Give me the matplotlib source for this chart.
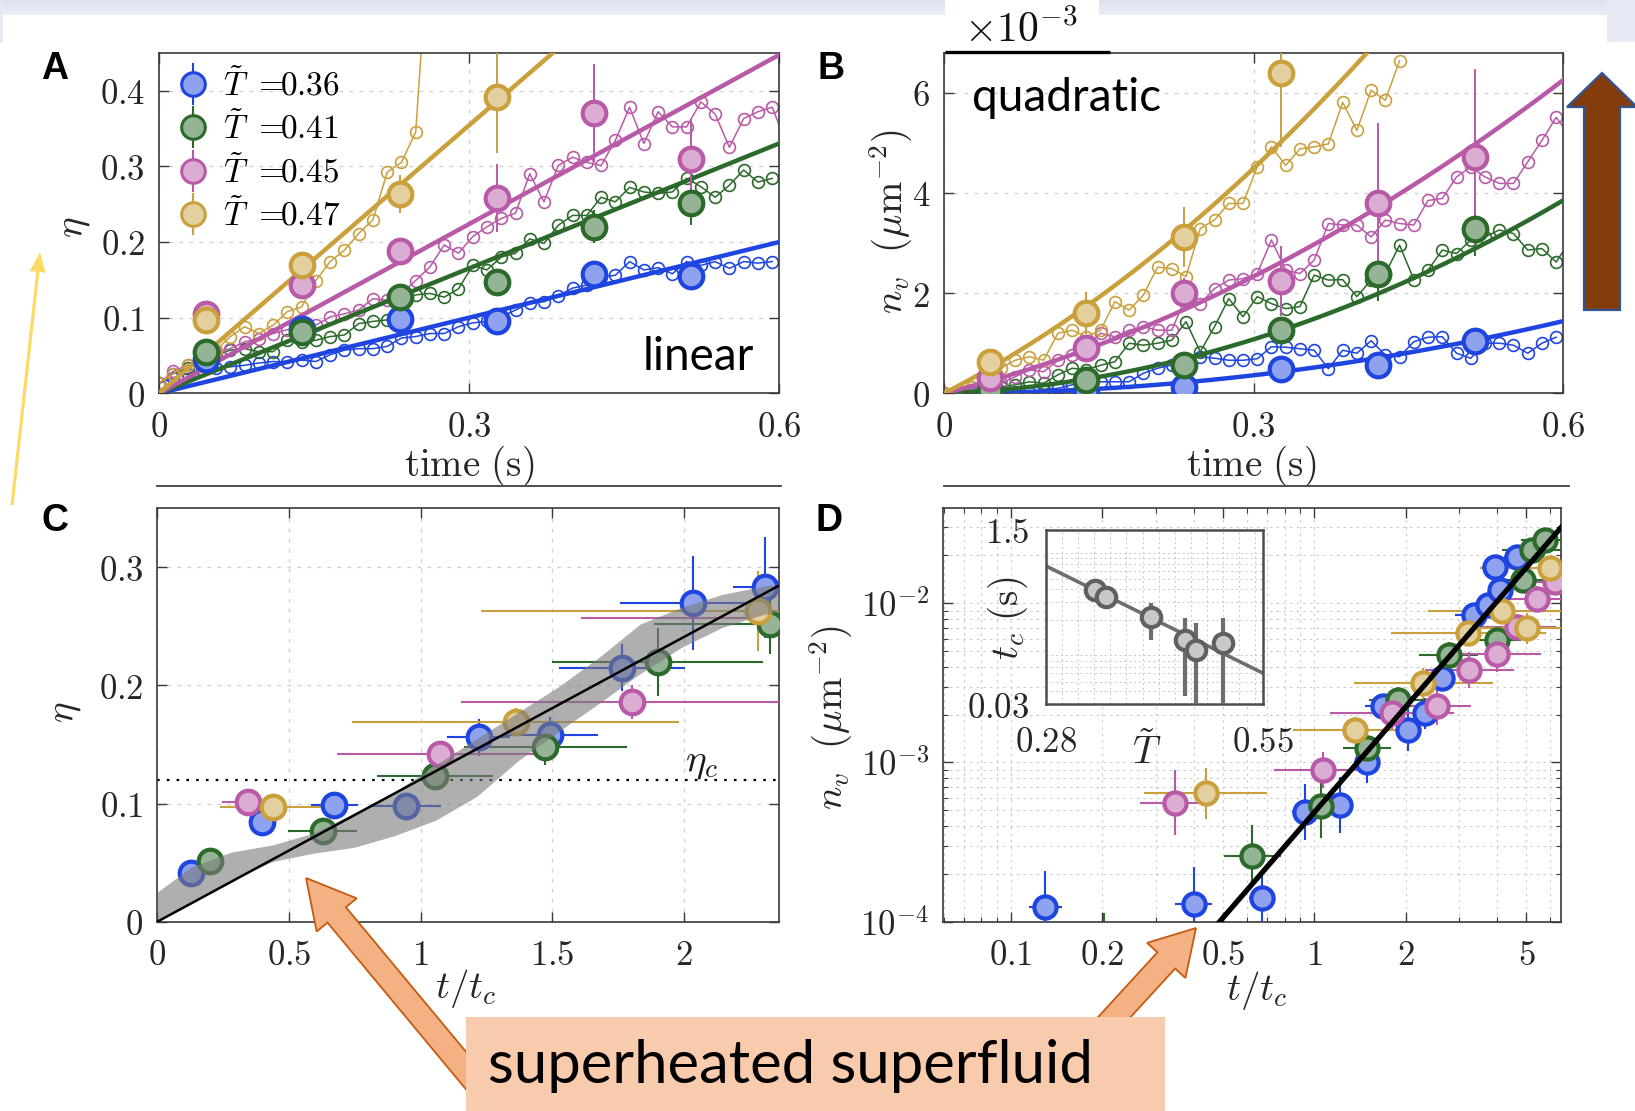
import numpy as np
import matplotlib
matplotlib.use("Agg")
import matplotlib.pyplot as plt
from matplotlib.patches import Rectangle, FancyArrow
from matplotlib.lines import Line2D
from matplotlib.legend_handler import HandlerTuple
from matplotlib.ticker import FixedLocator, FuncFormatter, NullFormatter, MultipleLocator, LogLocator
from matplotlib.colors import to_rgb, LinearSegmentedColormap

plt.rcParams["mathtext.fontset"] = "cm"
plt.rcParams["font.family"] = ["DejaVu Sans"]

W, H = 1635, 1111

# ------------------------------------------------------------------ data
temps = [0.36, 0.41, 0.45, 0.47]
edge_colors = ["#1f45e0", "#2b6a2b", "#b85aa8", "#c9a03c"]

# Panel A: vortex fraction eta vs time
DT = 0.0138
t_bin = [0.045, 0.138, 0.233, 0.327, 0.421, 0.515]
eta_bin_036 = [0.045, 0.085, 0.098, 0.095, 0.157, 0.155]
eta_bin_041 = [0.055, 0.081, 0.127, 0.147, 0.220, 0.252]
eta_bin_045 = [0.105, 0.143, 0.188, 0.258, 0.370, 0.309]
eta_bin_047 = [0.097, 0.169, 0.263, 0.392]
eta_err_036 = [0.005, 0.006, 0.008, 0.008, 0.010, 0.010]
eta_err_041 = [0.006, 0.008, 0.012, 0.012, 0.022, 0.030]
eta_err_045 = [0.006, 0.010, 0.012, 0.045, 0.065, 0.053]
eta_err_047 = [0.008, 0.012, 0.025, 0.075]
eta_slope = [0.333, 0.55, 0.745, 1.18]

eta_raw_036 = [0.013, 0.020, 0.026, 0.031, 0.033, 0.035, 0.037, 0.040, 0.042, 0.041, 0.044,
               0.042, 0.051, 0.057, 0.059, 0.059, 0.062, 0.073, 0.075, 0.079, 0.079, 0.088,
               0.093, 0.095, 0.101, 0.110, 0.119, 0.121, 0.129, 0.139, 0.143, 0.153, 0.156,
               0.174, 0.163, 0.166, 0.158, 0.174, 0.169, 0.174, 0.165, 0.174, 0.172, 0.174]
eta_raw_041 = [0.013, 0.026, 0.033, 0.044, 0.051, 0.057, 0.059, 0.055, 0.055, 0.070, 0.068,
               0.070, 0.075, 0.077, 0.092, 0.095, 0.097, 0.123, 0.130, 0.132, 0.127, 0.138,
               0.169, 0.163, 0.180, 0.185, 0.204, 0.198, 0.222, 0.235, 0.235, 0.259, 0.253,
               0.272, 0.266, 0.264, 0.266, 0.284, 0.273, 0.259, 0.275, 0.295, 0.279, 0.284]
eta_raw_045 = [0.013, 0.029, 0.037, 0.046, 0.055, 0.059, 0.068, 0.072, 0.079, 0.084, 0.088,
               0.090, 0.101, 0.105, 0.110, 0.125, 0.123, 0.132, 0.149, 0.167, 0.196, 0.185,
               0.207, 0.220, 0.231, 0.238, 0.290, 0.253, 0.301, 0.312, 0.305, 0.301, 0.334,
               0.378, 0.330, 0.372, 0.352, 0.352, 0.385, 0.369, 0.325, 0.363, 0.372, 0.378, 0.330]
eta_raw_047 = [0.013, 0.026, 0.037, 0.048, 0.057, 0.075, 0.088, 0.079, 0.090, 0.108, 0.114,
               0.149, 0.174, 0.189, 0.211, 0.229, 0.292, 0.305, 0.345, 0.620]

# Panel B: vortex density (units of 1e-3 um^-2) vs time
nv_bin_036 = [0.02, 0.03, 0.13, 0.48, 0.56, 1.04]
nv_bin_041 = [0.05, 0.27, 0.56, 1.26, 2.39, 3.29]
nv_bin_045 = [0.30, 0.90, 2.01, 2.25, 3.79, 4.72]
nv_bin_047 = [0.63, 1.61, 3.12, 6.39]
nv_err_036 = [0.03, 0.04, 0.06, 0.10, 0.10, 0.25]
nv_err_041 = [0.05, 0.10, 0.15, 0.20, 0.55, 0.55]
nv_err_045 = [0.10, 0.20, 0.30, 0.70, 1.60, 1.75]
nv_err_047 = [0.10, 0.42, 0.60, 1.47]
nv_quad = [4.0, 9.42, 8.83, 14.66]   # t^2 coefficient
nv_lin = [0.0, 0.765, 5.12, 10.57]   # t coefficient

nv_raw_036 = [0.0, 0.0, 0.01, 0.01, 0.02, 0.02, 0.03, 0.07, 0.10, 0.17, 0.20, 0.23, 0.23,
              0.23, 0.40, 0.50, 0.565, 0.66, 0.73, 0.70, 0.66, 0.66, 0.69, 0.93, 0.92, 0.89,
              0.86, 0.49, 0.86, 0.80, 1.05, 0.76, 0.73, 1.03, 1.12, 1.13, 0.80, 0.70, 1.00,
              1.00, 0.96, 0.80, 1.00, 1.12]
nv_raw_041 = [0.0, 0.03, 0.07, 0.10, 0.13, 0.17, 0.23, 0.20, 0.37, 0.50, 0.47, 0.56, 0.63,
              1.00, 0.96, 1.00, 1.06, 1.43, 0.83, 1.33, 1.89, 1.53, 1.93, 1.79, 1.69, 1.73,
              2.36, 2.26, 2.27, 1.93, 2.26, 2.39, 2.96, 2.27, 2.46, 2.86, 2.79, 3.06, 3.12,
              3.26, 3.19, 2.86, 2.89, 2.62, 3.06]
nv_raw_045 = [0.0, 0.03, 0.07, 0.13, 0.20, 0.33, 0.47, 0.43, 0.66, 0.76, 0.93, 1.20, 1.13,
              1.26, 1.33, 1.26, 1.26, 1.93, 1.79, 2.09, 2.26, 2.29, 2.39, 3.06, 2.46, 2.39,
              2.66, 3.39, 3.36, 3.36, 3.12, 3.46, 3.39, 3.36, 3.85, 3.89, 4.32, 4.52, 4.32,
              4.19, 4.19, 4.62, 5.05, 5.51, 5.12]
nv_raw_047 = [0.0, 0.05, 0.13, 0.33, 0.50, 0.66, 0.73, 0.66, 1.20, 1.26, 1.13, 1.26, 1.83,
              1.66, 1.96, 2.52, 2.49, 2.33, 3.29, 3.46, 3.79, 3.79, 4.52, 4.92, 4.55, 4.88,
              4.92, 4.98, 5.81, 5.25, 6.05, 5.85, 6.64]

# Panel C: eta vs rescaled time t/t_c
c_x_036 = [0.127, 0.399, 0.673, 0.946, 1.221, 1.493, 1.764, 2.036, 2.307]
c_eta_036 = [0.041, 0.084, 0.099, 0.098, 0.156, 0.158, 0.215, 0.270, 0.283]
c_xerr_036 = [0.02, 0.04, 0.09, 0.13, 0.12, 0.18, 0.24, 0.28, 0.12]
c_yerr_036 = [0.003, 0.004, 0.005, 0.005, 0.016, 0.015, 0.020, 0.040, 0.043]
c_x_041 = [0.202, 0.628, 1.054, 1.474, 1.901, 2.326]
c_eta_041 = [0.051, 0.077, 0.123, 0.148, 0.220, 0.252]
c_xerr_041 = [0.02, 0.13, 0.22, 0.31, 0.40, 0.44]
c_yerr_041 = [0.004, 0.005, 0.010, 0.015, 0.029, 0.025]
c_x_045 = [0.346, 1.074, 1.803, 2.530]
c_eta_045 = [0.101, 0.142, 0.186, 0.257]
c_xerr_045 = [0.10, 0.39, 0.65, 0.92]
c_yerr_045 = [0.004, 0.008, 0.014, 0.020]
c_x_047 = [0.439, 1.361, 2.281]
c_eta_047 = [0.097, 0.169, 0.263]
c_xerr_047 = [0.20, 0.62, 1.05]
c_yerr_047 = [0.004, 0.012, 0.034]
band_x = [0.0, 0.127, 0.282, 0.438, 0.593, 0.748, 0.903, 1.058, 1.213, 1.369, 1.524,
          1.679, 1.834, 1.989, 2.144, 2.30, 2.36]
band_hi = [0.025, 0.046, 0.059, 0.065, 0.075, 0.092, 0.110, 0.133, 0.155, 0.177, 0.199,
           0.224, 0.252, 0.266, 0.277, 0.284, 0.286]
band_lo = [0.0, 0.017, 0.035, 0.051, 0.058, 0.063, 0.073, 0.086, 0.106, 0.136, 0.161,
           0.185, 0.210, 0.232, 0.249, 0.260, 0.263]
c_slope = 0.1205
eta_c = 0.12

# Panel D: vortex density vs t/t_c (log-log)
d_x_036 = [0.130, 0.40, 0.671, 0.931, 1.22, 1.49, 1.69, 2.04, 2.32, 2.63, 3.35, 3.75, 4.10, 3.94, 4.65]
d_nv_036 = [1.23e-4, 1.29e-4, 1.40e-4, 4.91e-4, 5.41e-4, 1.01e-3, 2.25e-3, 1.6e-3, 2.04e-3,
            3.38e-3, 8.43e-3, 9.77e-3, 1.21e-2, 1.70e-2, 1.96e-2]
d_fx_036 = [1.13, 1.15, 1.10, 1.10, 1.08, 1.10, 1.15, 1.10, 1.10, 1.10, 1.15, 1.12, 1.10, 1.10, 1.10]
d_fy_036 = [1.7, 1.7, 1.4, 1.5, 1.5, 1.35, 1.2, 1.35, 1.25, 1.2, 1.15, 1.15, 1.15, 1.1, 1.1]
d_x_041 = [0.202, 0.625, 1.05, 1.49, 1.89, 2.77, 3.99, 4.89, 5.21, 5.77]
d_nv_041 = [6.0e-5, 2.59e-4, 5.33e-4, 1.23e-3, 2.47e-3, 4.73e-3, 5.89e-3, 1.40e-2, 2.16e-2, 2.50e-2]
d_fx_041 = [1.0, 1.24, 1.15, 1.2, 1.25, 1.25, 1.2, 1.2, 1.25, 1.2]
d_fy_041 = [1.9, 1.57, 1.6, 1.25, 1.2, 1.2, 1.2, 1.15, 1.15, 1.15]
d_x_045 = [0.347, 1.07, 1.80, 2.53, 3.24, 3.99, 4.65, 5.41, 6.22]
d_nv_045 = [5.58e-4, 8.97e-4, 2.04e-3, 2.25e-3, 3.81e-3, 4.81e-3, 7.13e-3, 1.07e-2, 1.37e-2]
d_fx_045 = [1.3, 1.45, 1.6, 1.3, 1.4, 1.4, 1.35, 1.3, 1.3]
d_fy_045 = [1.6, 1.3, 1.3, 1.3, 1.3, 1.3, 1.2, 1.2, 1.2]
d_x_047 = [0.438, 1.36, 2.29, 3.22, 4.15, 5.01, 5.98]
d_nv_047 = [6.41e-4, 1.6e-3, 3.15e-3, 6.49e-3, 8.95e-3, 6.97e-3, 1.66e-2]
d_fx_047 = [1.6, 1.6, 1.7, 1.8, 1.75, 1.5, 1.7]
d_fy_047 = [1.45, 1.2, 1.25, 1.2, 1.2, 1.25, 1.15]
d_amp = 4.86e-4
d_exp = 2.2

# Inset: critical time vs temperature
inset_T = [0.341, 0.355, 0.410, 0.453, 0.466, 0.500]
inset_tc = [0.391, 0.334, 0.213, 0.126, 0.101, 0.119]
inset_tc_lo = [0.030, 0.030, 0.086, 0.090, 0.090, 0.110]
inset_tc_hi = [0.040, 0.040, 0.077, 0.080, 0.084, 0.087]
inset_T_err = [0.004, 0.004, 0.012, 0.005, 0.005, 0.014]
inset_fit = [0.910, -3.874]   # log10(t_c) = a + b * T

# ------------------------------------------------------------------ helpers
TICK_FS = 25
LABEL_FS = 28


def px_rect(l, t, r, b):
    return [l / W, 1 - b / H, (r - l) / W, (b - t) / H]


def face(c, a=0.5):
    r, g, b = to_rgb(c)
    return (a * r + 1 - a, a * g + 1 - a, a * b + 1 - a)


def plain_fmt(v, pos):
    return r"$%s$" % ("%g" % v)


def pow_fmt(v, pos):
    return r"$10^{%d}$" % int(round(np.log10(v)))


def style_axes(ax, xpad=12, ypad=10):
    for s in ax.spines.values():
        s.set_linewidth(1.2)
        s.set_color("#3a3a3a")
    ax.tick_params(which="major", direction="in", top=True, right=True, length=7,
                   width=1.0, colors="#3a3a3a", labelcolor="#262626", labelsize=TICK_FS)
    ax.tick_params(which="minor", direction="in", top=True, right=True, length=3.5,
                   width=0.8, colors="#3a3a3a")
    ax.tick_params(axis="x", pad=xpad)
    ax.tick_params(axis="y", pad=ypad)


def marked(ax, x, y, c, ms, xerr=None, yerr=None, elw=1.5, z=3):
    cont = ax.errorbar(x, y, xerr=xerr, yerr=yerr, fmt="o", ms=ms, mec=c, mfc=face(c),
                       mew=3, ecolor=c, elinewidth=elw, capsize=0, zorder=z)
    cont[0].set_zorder(z + 0.5)
    return cont


def ptext(x, y, s, **kw):
    return fig.text(x / W, 1 - y / H, s, **kw)


fig = plt.figure(figsize=(W / 100, H / 100), dpi=100)
fig.patch.set_facecolor("white")

grid_kw = dict(color="#cfcfcf", linestyle=(0, (3, 5)), linewidth=0.9)

# ------------------------------------------------------------------ panel A
axA = fig.add_axes(px_rect(159, 52.7, 779, 393.3))
bins_A = [eta_bin_036, eta_bin_041, eta_bin_045, eta_bin_047]
errs_A = [eta_err_036, eta_err_041, eta_err_045, eta_err_047]
raws_A = [eta_raw_036, eta_raw_041, eta_raw_045, eta_raw_047]
handles = []
for k in range(4):
    c = edge_colors[k]
    raw = np.array(raws_A[k])
    axA.plot(np.arange(len(raw)) * DT, raw, "-o", color=c, lw=1.1, ms=8.5,
             mfc="none", mec=c, mew=1.2, zorder=2)
    tf = np.linspace(0, 0.6, 50)
    axA.plot(tf, eta_slope[k] * tf, "-", color=c, lw=3.2, zorder=3)
    n = len(bins_A[k])
    marked(axA, t_bin[:n], bins_A[k], c, 17, yerr=errs_A[k], elw=1.4, z=4)
    bar = Line2D([], [], marker="|", ms=30, mew=1.5, color=c, linestyle="none")
    dot = Line2D([], [], marker="o", ms=17, mew=2.2, mec=c, mfc=face(c), linestyle="none")
    handles.append((bar, dot))
axA.set_xlim(0, 0.6)
axA.set_ylim(0, 0.45)
axA.xaxis.set_major_locator(FixedLocator([0, 0.3, 0.6]))
axA.yaxis.set_major_locator(FixedLocator([0, 0.1, 0.2, 0.3, 0.4]))
axA.xaxis.set_major_formatter(FuncFormatter(plain_fmt))
axA.yaxis.set_major_formatter(FuncFormatter(plain_fmt))
axA.grid(True, **grid_kw)
axA.set_axisbelow(True)
style_axes(axA)
axA.legend(handles, [r"$\tilde{T}\ =\!\!%g$" % T for T in temps], loc="upper left",
           bbox_to_anchor=(0.03, 0.955), frameon=False, fontsize=24,
           handler_map={tuple: HandlerTuple(ndivide=1)},
           handlelength=0.9, handletextpad=0.45, labelspacing=0.28, borderaxespad=0,
           borderpad=0)

# ------------------------------------------------------------------ panel B
axB = fig.add_axes(px_rect(944, 52.7, 1563, 393.3))
bins_B = [nv_bin_036, nv_bin_041, nv_bin_045, nv_bin_047]
errs_B = [nv_err_036, nv_err_041, nv_err_045, nv_err_047]
raws_B = [nv_raw_036, nv_raw_041, nv_raw_045, nv_raw_047]
for k in range(4):
    c = edge_colors[k]
    raw = np.array(raws_B[k])
    axB.plot(np.arange(len(raw)) * DT, raw, "-o", color=c, lw=1.1, ms=8.5,
             mfc="none", mec=c, mew=1.2, zorder=2)
    tf = np.linspace(0, 0.6, 80)
    axB.plot(tf, nv_quad[k] * tf ** 2 + nv_lin[k] * tf, "-", color=c, lw=3.2, zorder=3)
    n = len(bins_B[k])
    marked(axB, t_bin[:n], bins_B[k], c, 17, yerr=errs_B[k], elw=1.4, z=4)
axB.set_xlim(0, 0.6)
axB.set_ylim(0, 6.8)
axB.xaxis.set_major_locator(FixedLocator([0, 0.3, 0.6]))
axB.yaxis.set_major_locator(FixedLocator([0, 2, 4, 6]))
axB.xaxis.set_major_formatter(FuncFormatter(plain_fmt))
axB.yaxis.set_major_formatter(FuncFormatter(plain_fmt))
axB.grid(True, **grid_kw)
axB.set_axisbelow(True)
style_axes(axB)

# ------------------------------------------------------------------ panel C
axC = fig.add_axes(px_rect(157.3, 508.3, 778.6, 921.7))
cx = [c_x_036, c_x_041, c_x_045, c_x_047]
cy = [c_eta_036, c_eta_041, c_eta_045, c_eta_047]
cxe = [c_xerr_036, c_xerr_041, c_xerr_045, c_xerr_047]
cye = [c_yerr_036, c_yerr_041, c_yerr_045, c_yerr_047]
for k in range(4):
    marked(axC, cx[k], cy[k], edge_colors[k], 17, xerr=cxe[k], yerr=cye[k], z=3)
axC.fill_between(band_x, band_lo, band_hi, color="#7a7a7a", alpha=0.6, lw=0, zorder=5)
xl = np.linspace(0, 2.36, 20)
axC.plot(xl, c_slope * xl, color="black", lw=1.8, zorder=6)
axC.axhline(eta_c, color="black", lw=1.6, linestyle=(0, (1.2, 3.2)), zorder=2)
axC.text(2.067, 0.135, r"$\eta_c$", fontsize=LABEL_FS, ha="center", va="center",
         color="#1a1a1a")
axC.set_xlim(0, 2.36)
axC.set_ylim(0, 0.35)
axC.xaxis.set_major_locator(FixedLocator([0, 0.5, 1, 1.5, 2]))
axC.yaxis.set_major_locator(FixedLocator([0, 0.1, 0.2, 0.3]))
axC.xaxis.set_major_formatter(FuncFormatter(plain_fmt))
axC.yaxis.set_major_formatter(FuncFormatter(plain_fmt))
axC.grid(True, **grid_kw)
axC.set_axisbelow(True)
style_axes(axC)

# ------------------------------------------------------------------ panel D
axD = fig.add_axes(px_rect(942.7, 508.3, 1560.7, 921.7))
dx = [d_x_036, d_x_041, d_x_045, d_x_047]
dy = [d_nv_036, d_nv_041, d_nv_045, d_nv_047]
dfx = [d_fx_036, d_fx_041, d_fx_045, d_fx_047]
dfy = [d_fy_036, d_fy_041, d_fy_045, d_fy_047]
for k in range(4):
    x = np.array(dx[k]); y = np.array(dy[k])
    fxv = np.array(dfx[k]); fyv = np.array(dfy[k])
    xerr = [x - x / fxv, x * fxv - x]
    yerr = [y - y / fyv, y * fyv - y]
    marked(axD, x, y, edge_colors[k], 16, xerr=xerr, yerr=yerr, z=3 + 0.01 * k)
xl = np.logspace(np.log10(0.06), np.log10(6.5), 40)
axD.plot(xl, d_amp * xl ** d_exp, color="black", lw=3.8, zorder=6)
axD.set_xscale("log")
axD.set_yscale("log")
axD.set_xlim(0.0596, 6.49)
axD.set_ylim(1e-4, 0.0395)
axD.xaxis.set_major_locator(FixedLocator([0.1, 0.2, 0.5, 1, 2, 5]))
axD.xaxis.set_minor_locator(FixedLocator([0.06, 0.07, 0.08, 0.09, 0.3, 0.4, 0.6, 0.7,
                                          0.8, 0.9, 3, 4, 6]))
axD.xaxis.set_major_formatter(FuncFormatter(plain_fmt))
axD.xaxis.set_minor_formatter(NullFormatter())
axD.yaxis.set_major_locator(FixedLocator([1e-4, 1e-3, 1e-2]))
axD.yaxis.set_minor_locator(LogLocator(base=10, subs=np.arange(2, 10)))
axD.yaxis.set_major_formatter(FuncFormatter(pow_fmt))
axD.yaxis.set_minor_formatter(NullFormatter())
axD.grid(True, which="both", color="#c8c8c8", linestyle=(0, (2, 4)), linewidth=0.8)
axD.set_axisbelow(True)
style_axes(axD)

# ------------------------------------------------------------------ inset
axI = fig.add_axes(px_rect(1046, 530, 1263.3, 704.3), zorder=5)
axI.set_facecolor("white")
Tl = np.linspace(0.28, 0.55, 20)
axI.plot(Tl, 10 ** (inset_fit[0] + inset_fit[1] * Tl), color="#6e6e6e", lw=2.6, zorder=2)
ci = axI.errorbar(inset_T, inset_tc, xerr=inset_T_err, yerr=[inset_tc_lo, inset_tc_hi],
                  fmt="o", ms=14, mfc="#c8c8c8", mec="#606060", mew=3, ecolor="#6e6e6e",
                  elinewidth=3, capsize=0, zorder=3)
ci[0].set_zorder(3.5)
axI.set_yscale("log")
axI.set_xlim(0.28, 0.55)
axI.set_ylim(0.03, 1.5)
axI.xaxis.set_major_locator(FixedLocator([0.28, 0.55]))
axI.xaxis.set_minor_locator(MultipleLocator(0.02))
axI.yaxis.set_major_locator(FixedLocator([0.03, 1.5]))
axI.yaxis.set_minor_locator(LogLocator(base=10, subs=np.arange(2, 10)))
axI.xaxis.set_major_formatter(FuncFormatter(plain_fmt))
axI.yaxis.set_major_formatter(FuncFormatter(plain_fmt))
axI.yaxis.set_minor_formatter(NullFormatter())
axI.grid(True, which="minor", color="#c8c8c8", linestyle=(0, (2, 3)), linewidth=0.7)
for s in axI.spines.values():
    s.set_linewidth(1.8)
    s.set_color("#4d4d4d")
axI.tick_params(which="both", direction="in", length=0, labelsize=TICK_FS,
                labelcolor="#262626")
axI.tick_params(axis="x", pad=15)
axI.tick_params(axis="y", pad=12)

# ------------------------------------------------------------------ labels
lab = dict(fontsize=LABEL_FS, color="#262626", ha="center", va="center")
ptext(469, 466, r"$\mathrm{time\ (s)}$", **lab)
ptext(1251, 466, r"$\mathrm{time\ (s)}$", **lab)
ptext(73, 227, r"$\eta$", rotation=90, **lab)
ptext(891, 222, r"$n_v\ \ (\mu\mathrm{m}^{-2})$", rotation=90, **lab)
ptext(466, 988, r"$t/t_c$", **lab)
ptext(1257, 990, r"$t/t_c$", **lab)
ptext(64, 712, r"$\eta$", rotation=90, **lab)
ptext(831, 718, r"$n_v\ \ (\mu\mathrm{m}^{-2})$", rotation=90, **lab)
ptext(1146.7, 752, r"$\tilde{T}$", **lab)
ptext(1008, 618, r"$t_c\ (\mathrm{s})$", rotation=90, **lab)
ptext(1021, 30, r"$\times10^{-3}$", fontsize=30, color="#111111", ha="center", va="center")

pan = dict(fontsize=27, fontweight="bold", family=["Liberation Sans", "DejaVu Sans"],
           ha="center", va="center", color="black")
ptext(55, 69, "A", **pan)
ptext(831, 69, "B", **pan)
ptext(55, 521, "C", **pan)
ptext(829, 521, "D", **pan)

ptext(698, 357, "linear", fontsize=33, family=["Lato", "DejaVu Sans"], ha="center",
      va="center", color="black")
ptext(972, 98, "quadratic", fontsize=33, family=["Lato", "DejaVu Sans"], ha="left",
      va="center", color="black")

# ------------------------------------------------------------------ slide decorations
bg = fig.add_axes([0, 0, 1, 1], zorder=-10)
bg.axis("off")
grad = np.linspace(0, 1, 30).reshape(-1, 1)
bg.imshow(grad, extent=[0, W, 15, 0], cmap=LinearSegmentedColormap.from_list(
    "band", ["#dde2ef", "#eceff7"]), aspect="auto", zorder=0)
bg.add_patch(Rectangle((1607, 0), 28, 42, color="#e6e9f3", lw=0, zorder=0))
bg.add_patch(Rectangle((0, 0), 2.5, 43, color="#e6e9f3", lw=0, zorder=0))
bg.add_patch(Rectangle((945, 0), 154, 16, color="white", lw=0, zorder=1))
bg.set_xlim(0, W); bg.set_ylim(H, 0)

ov = fig.add_axes([0, 0, 1, 1], zorder=20)
ov.set_xlim(0, W); ov.set_ylim(H, 0); ov.axis("off")
ov.patch.set_alpha(0)

# heavy rule under the exponent label and remnants of the panels above
ov.plot([945, 1110], [51.8, 51.8], color="black", lw=2.4, solid_capstyle="butt")
ov.plot([157, 781], [486, 486], color="#404040", lw=1.3)
ov.plot([944, 1569], [486, 486], color="#404040", lw=1.3)

# block arrows and the caption box
ov.add_patch(FancyArrow(12, 505, 28, -253, width=3.2, head_width=16, head_length=20,
                        length_includes_head=True, color="#ffd966", lw=0))
ov.add_patch(FancyArrow(1602, 310, 0, -237, width=36, head_width=70, head_length=34,
                        length_includes_head=True, fc="#843c0c", ec="#2f5597", lw=1.6))
ov.add_patch(FancyArrow(478, 1085, -172, -207, width=24, head_width=52, head_length=48,
                        length_includes_head=True, fc="#f4b183", ec="#c55a11", lw=1.3))
ov.add_patch(FancyArrow(1075, 1060, 121, -132, width=24, head_width=52, head_length=44,
                        length_includes_head=True, fc="#f4b183", ec="#c55a11", lw=1.3))
ov.add_patch(Rectangle((466, 1017), 699, 100, fc="#f8cbad", ec="none", zorder=5))
ov.text(488, 1066, "superheated superfluid", fontsize=43, family=["Lato", "DejaVu Sans"],
        ha="left", va="center", color="black", zorder=6)

fig.savefig("out.png", dpi=100, facecolor=fig.get_facecolor())
